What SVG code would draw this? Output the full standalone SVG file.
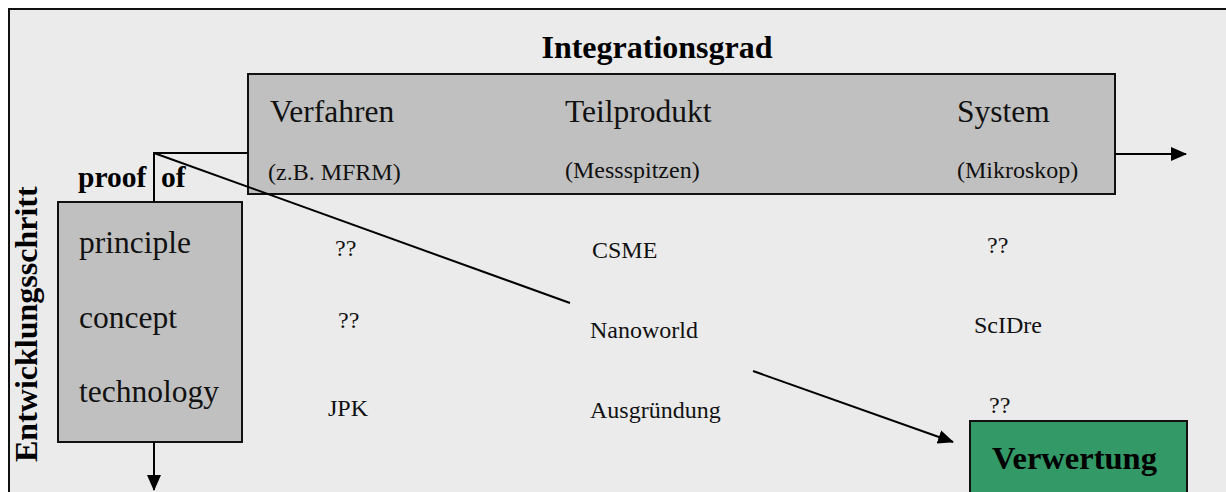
<svg xmlns="http://www.w3.org/2000/svg" width="1226" height="492" viewBox="0 0 1226 492" font-family="'Liberation Serif', 'Times New Roman', Times, serif">
<defs>
<marker id="ah" markerUnits="userSpaceOnUse" markerWidth="16" markerHeight="14" refX="15" refY="7" orient="auto">
<path d="M0,0 L16,7 L0,14 z" fill="#000"/>
</marker>
<style>
.box{fill:#c0c0c0;stroke:#111;stroke-width:2}
.big{font-size:31.5px;fill:#111}
.sm{font-size:24px;fill:#111}
.bold{font-weight:bold;fill:#000}
.ln{stroke:#000;stroke-width:2;fill:none}
</style>
</defs>
<rect x="0" y="0" width="1226" height="492" fill="#fff"/>
<rect id="frame" x="9" y="9" width="1230" height="500" fill="#ebebeb" stroke="#111" stroke-width="2"/>
<text class="bold" x="657" y="58" font-size="32" text-anchor="middle">Integrationsgrad</text>
<g id="integration">
<rect class="box" x="248" y="74" width="867" height="120"/>
<text class="big" x="270" y="122">Verfahren</text>
<text class="sm" x="268" y="180">(z.B. MFRM)</text>
<text class="big" x="565" y="122">Teilprodukt</text>
<text class="sm" x="565" y="178">(Messspitzen)</text>
<text class="big" x="957" y="122">System</text>
<text class="sm" x="957" y="178">(Mikroskop)</text>
</g>
<g id="proof">
<text class="bold" x="78" y="187" font-size="29.5">proof</text>
<text class="bold" x="161" y="187" font-size="29.5">of</text>
</g>
<g id="steps">
<rect class="box" x="58" y="202" width="184" height="240"/>
<text class="big" x="79" y="253">principle</text>
<text class="big" x="79" y="328">concept</text>
<text class="big" x="79" y="402">technology</text>
</g>
<text class="bold" font-size="32" transform="translate(37,462) rotate(-90)">Entwicklungsschritt</text>
<g id="cells">
<text class="sm" x="335" y="256">??</text>
<text class="sm" x="338" y="328">??</text>
<text class="sm" x="328" y="416">JPK</text>
<text class="sm" x="592" y="258">CSME</text>
<text class="sm" x="590" y="338">Nanoworld</text>
<text class="sm" x="590" y="418">Ausgründung</text>
<text class="sm" x="987" y="253">??</text>
<text class="sm" x="974" y="333">ScIDre</text>
<text class="sm" x="989" y="413">??</text>
</g>
<g id="verwertung">
<rect x="970" y="421" width="217" height="90" fill="#339966" stroke="#111" stroke-width="2"/>
<text class="bold" x="992" y="469" font-size="32.5">Verwertung</text>
</g>
<g id="connectors">
<polyline class="ln" points="248,153 154,153 154,202"/>
<line class="ln" x1="154" y1="442" x2="154" y2="490" marker-end="url(#ah)"/>
<line class="ln" x1="1115" y1="154" x2="1186" y2="154" marker-end="url(#ah)"/>
<line class="ln" x1="154" y1="153" x2="570" y2="303"/>
<line class="ln" x1="753" y1="371" x2="953" y2="442" marker-end="url(#ah)"/>
</g>
</svg>
